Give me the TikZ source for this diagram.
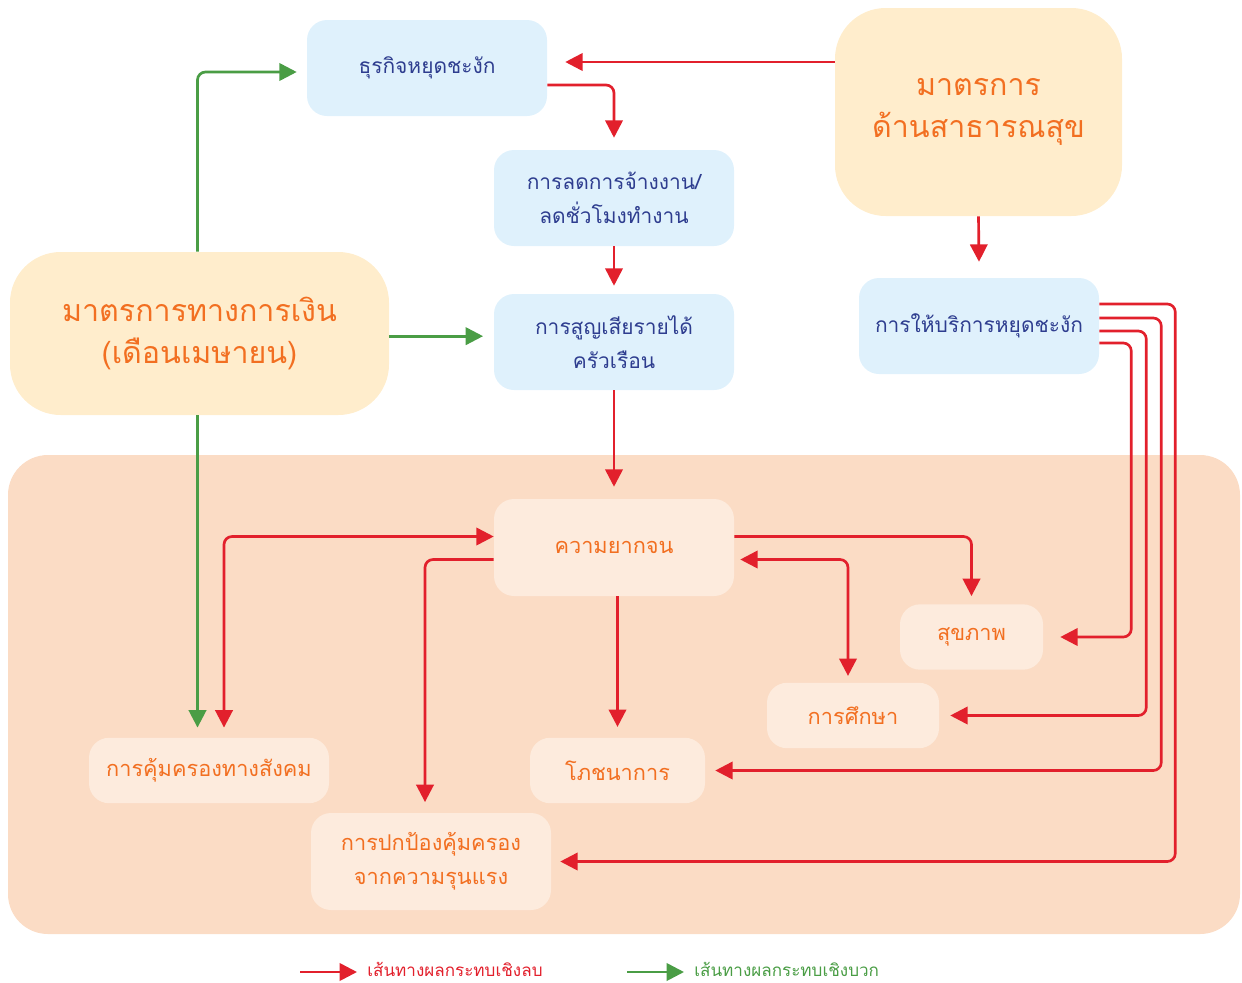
\documentclass[tikz,border=0pt]{standalone}
\usepackage{fontspec}
\newfontfamily\thai[Script=Thai]{Loma}
\usetikzlibrary{arrows.meta,calc}
\definecolor{bfill}{HTML}{DFF1FC}
\definecolor{btext}{HTML}{2E3D8F}
\definecolor{yfill}{HTML}{FFEDCC}
\definecolor{otext}{HTML}{F26F21}
\definecolor{bgpeach}{HTML}{FBDCC5}
\definecolor{pfill}{HTML}{FDEBDD}
\definecolor{nred}{HTML}{E2202C}
\definecolor{pgreen}{HTML}{4A9D45}
\tikzset{
  every node/.style={inner sep=0pt, align=center},
  bluebox/.style={fill=bfill, rounded corners=15pt, minimum width=180pt, minimum height=72pt, text=btext, font=\thai\fontsize{15.7}{25.5}\selectfont},
  bigbox/.style={fill=yfill, rounded corners=38pt, text=otext, font=\thai\fontsize{22.8}{32}\selectfont},
  peachbox/.style={fill=pfill, rounded corners=15pt, minimum height=49pt, text=otext, font=\thai\fontsize{16.3}{25.5}\selectfont},
  negarrow/.style={draw=nred, line width=2pt, rounded corners=6pt, -{Triangle[length=13pt,width=13pt]}},
  negboth/.style={draw=nred, line width=2pt, rounded corners=6pt, {Triangle[length=13pt,width=13pt]}-{Triangle[length=13pt,width=13pt]}},
  posarrow/.style={draw=pgreen, line width=2pt, rounded corners=6pt, -{Triangle[length=13pt,width=13pt]}},
  legtext/.style={anchor=west, font=\thai\fontsize{12.8}{15}\selectfont}
}
\begin{document}
\begin{tikzpicture}[x=0.75pt,y=-0.75pt]
\useasboundingbox (0,0) rectangle (1242,982);
% background panel
\fill[bgpeach, rounded corners=30pt] (8,455) rectangle (1240,934);

% top boxes
\node[bluebox] (biz) at (427,68) {ธุรกิจหยุดชะงัก};
\node[bluebox] (lay) at (614,198) {การลดการจ้างงาน/\\ลดชั่วโมงทำงาน};
\node[bluebox] (inc) at (614,342) {การสูญเสียรายได้\\ครัวเรือน};
\node[bluebox] (svc) at (979,326) {การให้บริการหยุดชะงัก};
\node[bigbox, minimum width=215.25pt, minimum height=156pt] (ph) at (978.5,112) {มาตรการ\\ด้านสาธารณสุข};
\node[bigbox, minimum width=284.25pt, minimum height=122.25pt] (fin) at (199.5,333.5) {มาตรการทางการเงิน\\(เดือนเมษายน)};

% lower boxes
\node[peachbox, minimum width=180pt, minimum height=72.75pt] (pov) at (614,547.5) {ความยากจน};
\node[peachbox, minimum width=107.25pt] (hea) at (971.5,637) {สุขภาพ};
\node[peachbox, minimum width=129pt] (edu) at (853,715.5) {การศึกษา};
\node[peachbox, minimum width=180pt] (soc) at (209,770.5) {การคุ้มครองทางสังคม};
\node[peachbox, minimum width=131.25pt] (nut) at (617.5,770.5) {โภชนาการ};
\node[peachbox, minimum width=180pt, minimum height=72.75pt] (vio) at (431,861.5) {การปกป้องคุ้มครอง\\จากความรุนแรง};

% red connectors
\draw[negarrow] ([yshift=4.5pt]ph.west |- biz.east) -- ([yshift=4.5pt,xshift=13.5pt]biz.east);
\draw[negarrow] ([yshift=-12.75pt]biz.east) -| ([yshift=9pt]lay.north);
\draw[negarrow] (lay.south) -- ([yshift=6pt]inc.north);
\draw[negarrow] (inc.south) -- ([yshift=9pt]pov.north);
\draw[negarrow] (ph.south) -- ([yshift=12pt]svc.north);

% green connectors
\draw[posarrow] ([xshift=-1.5pt]fin.north) |- ([xshift=-7.5pt,yshift=-3pt]biz.west);
\draw[posarrow] ([yshift=-2pt]fin.east) -- ([xshift=-8pt,yshift=-2pt]inc.west |- fin.east);
\draw[posarrow] ([xshift=-1.5pt]fin.south) -- ([xshift=-1.5pt,yshift=7.5pt]soc.north -| fin.south);

% poverty connectors
\draw[negboth] ([yshift=8.25pt]pov.west) -| ([xshift=11.25pt,yshift=7.5pt]soc.north);
\draw[negarrow] ([yshift=-9pt]pov.west) -| ([xshift=-4.5pt,yshift=8pt]vio.north);
\draw[negarrow] (pov.south -| nut.north) -- ([yshift=8pt]nut.north);
\draw[negarrow] ([yshift=8.25pt]pov.east) -| ([yshift=6pt]hea.north);
\draw[negboth] ([xshift=4.5pt,yshift=-9pt]pov.east) -| ([xshift=-3.75pt,yshift=5pt]edu.north);

% service connectors
\draw[negarrow] ([yshift=-12.75pt]svc.east) -- ++(24pt,0) |- ([xshift=12.75pt]hea.east);
\draw[negarrow] ([yshift=-3.75pt]svc.east) -- ++(35.25pt,0) |- ([xshift=8.25pt]edu.east);
\draw[negarrow] ([yshift=6pt]svc.east) -- ++(46.5pt,0) |- ([xshift=7.5pt]nut.east);
\draw[negarrow] ([yshift=16.5pt]svc.east) -- ++(57pt,0) |- ([xshift=6.75pt]vio.east);

% legend
\coordinate (l1a) at (300,972);
\coordinate (l1b) at (357,972);
\coordinate (l2a) at (627,972);
\coordinate (l2b) at (684,972);
\draw[negarrow] (l1a) -- (l1b);
\draw[posarrow] (l2a) -- (l2b);
\node[legtext, text=nred] (lt1) at (367,969) {เส้นทางผลกระทบเชิงลบ};
\node[legtext, text=pgreen] (lt2) at (694,969) {เส้นทางผลกระทบเชิงบวก};
\end{tikzpicture}
\end{document}
